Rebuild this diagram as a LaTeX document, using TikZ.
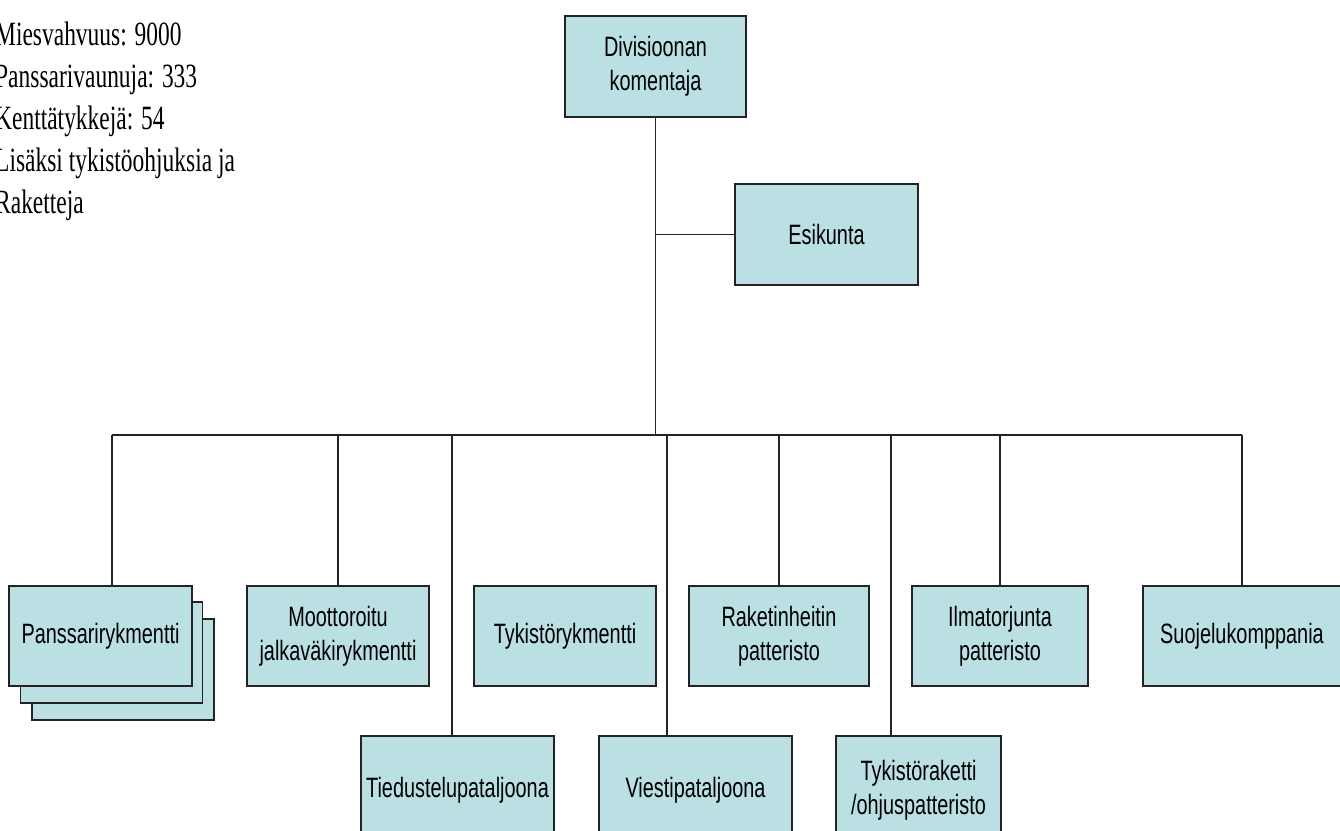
\documentclass[tikz,border=0pt]{standalone}
\usepackage{fontspec}
\newfontfamily\boxfont{Liberation Sans}[FakeStretch=0.71]
\newfontfamily\notefont{Liberation Serif}[FakeStretch=0.69]
\definecolor{boxfill}{RGB}{187,224,227}
\definecolor{boxline}{RGB}{35,35,35}
\tikzset{
  orgbox/.style={draw=boxline, line width=1.4pt, fill=boxfill, inner sep=0pt,
    align=center, font=\boxfont\fontsize{28}{34}\selectfont},
  link/.style={draw=boxline, line width=1.2pt},
}
\begin{document}
\begin{tikzpicture}[x=1pt,y=-1pt]
\useasboundingbox (0,0) rectangle (1340,830);
\clip (0,0) rectangle (1340,830);
\fill[white] (0,0) rectangle (1340,830);

% note
\node[anchor=north west, inner sep=0pt, align=left,
      font=\notefont\fontsize{34}{42}\selectfont] (note) at (-5,21.8)
  {Miesvahvuus: 9000\\Panssarivaunuja: 333\\Kenttätykkejä: 54\\Lisäksi tykistöohjuksia ja\\Raketteja};

% top
\node[orgbox, minimum width=181pt, minimum height=101pt] (top) at (655.5,66.5) {Divisioonan\\komentaja};
\node[orgbox, minimum width=183pt, minimum height=101pt] (esi) at (826.5,234.5) {Esikunta};

% row 1
\node[orgbox, minimum width=182pt, minimum height=101pt] (p3) at (123,669.5) {};
\node[orgbox, minimum width=182pt, minimum height=101pt] (p2) at (111.5,652.5) {};
\node[orgbox, minimum width=183pt, minimum height=100pt] (p1) at (100.5,636) {Panssarirykmentti};
\node[orgbox, minimum width=182pt, minimum height=100pt] (moo) at (338,636) {Moottoroitu\\jalkaväkirykmentti};
\node[orgbox, minimum width=182pt, minimum height=100pt] (tyk) at (565,636) {Tykistörykmentti};
\node[orgbox, minimum width=180pt, minimum height=100pt] (rak) at (779,636) {Raketinheitin\\patteristo};
\node[orgbox, minimum width=176pt, minimum height=100pt] (ilm) at (1000,636) {Ilmatorjunta\\patteristo};
\node[orgbox, minimum width=198pt, minimum height=100pt] (suo) at (1242,636) {Suojelukomppania};

% row 2
\node[orgbox, minimum width=193pt, minimum height=108pt] (tie) at (457.5,790) {Tiedustelupataljoona};
\node[orgbox, minimum width=193pt, minimum height=108pt] (vie) at (695.5,790) {Viestipataljoona};
\node[orgbox, minimum width=165pt, minimum height=108pt] (tra) at (918.5,790) {Tykistöraketti\\/ohjuspatteristo};

% bus
\coordinate (busL) at (112,435);
\coordinate (busR) at (1242,435);
\coordinate (jTie) at (452,435);
\coordinate (jVie) at (667,435);
\coordinate (jTra) at (891,435);

\draw[link] (top.south) -- (top.south |- busL);
\draw[link] (esi.west) -- (esi.west -| top.south);
\draw[link] (busL) -- (busR);
\draw[link] (busL) -- (busL |- p1.north);
\draw[link] (moo.north) -- (moo.north |- busL);
\draw[link] (rak.north) -- (rak.north |- busL);
\draw[link] (ilm.north) -- (ilm.north |- busL);
\draw[link] (busR) -- (busR |- suo.north);
\draw[link] (jTie) -- (jTie |- tie.north);
\draw[link] (jVie) -- (jVie |- vie.north);
\draw[link] (jTra) -- (jTra |- tra.north);
\end{tikzpicture}
\end{document}
